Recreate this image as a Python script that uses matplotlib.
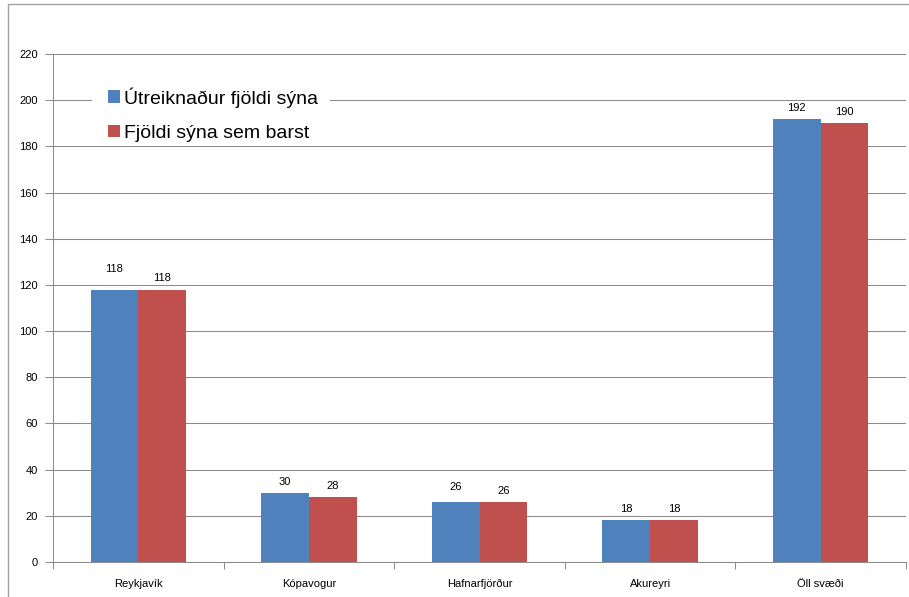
import numpy as np
import matplotlib.pyplot as plt
from matplotlib.patches import Rectangle

categories = ['Reykjavík', 'Kópavogur', 'Hafnarfjörður', 'Akureyri', 'Öll svæði']
calculated = [118, 30, 26, 18, 192]
received = [118, 28, 26, 18, 190]
series_names = ['Útreiknaður fjöldi sýna', 'Fjöldi sýna sem barst']

# extra lift (points) of the blue labels, as Excel staggered them
blue_lift = [7, 0, 3, 0, 0]

blue = '#4F81BD'
red = '#C0504D'
grid_col = '#8c8c8c'

plt.rcParams['font.family'] = ['Liberation Sans', 'DejaVu Sans']

fig = plt.figure(figsize=(9.09, 5.97), dpi=100)
ax = fig.add_axes([53 / 909, 1 - 562 / 597, 853 / 909, 508 / 597])

# outer chart border
fig.patches.append(Rectangle((8 / 909, -0.1), 1.2, 1 - 4 / 597 + 0.1, transform=fig.transFigure,
                             fill=False, edgecolor='#a0a0a0', linewidth=1))

x = np.arange(len(categories))
w = 0.28
b1 = ax.bar(x - w / 2, calculated, w, color=blue, label=series_names[0], zorder=3)
b2 = ax.bar(x + w / 2, received, w, color=red, label=series_names[1], zorder=3)

for rect, v, lift in zip(b1, calculated, blue_lift):
    ax.annotate(str(v), (rect.get_x() + rect.get_width() / 2, v), xytext=(0, 8 + lift),
                textcoords='offset points', ha='center', va='center', fontsize=8)
for rect, v in zip(b2, received):
    ax.annotate(str(v), (rect.get_x() + rect.get_width() / 2, v), xytext=(0, 8),
                textcoords='offset points', ha='center', va='center', fontsize=8)

ax.set_xlim(-0.5, len(categories) - 0.5)
ax.set_ylim(0, 220)
ax.set_yticks(range(0, 221, 20))
ax.yaxis.grid(True, color=grid_col, linewidth=0.75, zorder=0)
ax.set_axisbelow(True)

ax.set_xticks(x)
ax.set_xticklabels(categories, fontsize=8)
ax.tick_params(axis='x', length=0, pad=12)
ax.set_xticks(np.arange(-0.5, len(categories)), minor=True)
ax.tick_params(axis='x', which='minor', length=5, width=0.75, color=grid_col, direction='out')
ax.tick_params(axis='y', labelsize=8, length=6, width=0.75, color=grid_col, direction='out', pad=5)

for s in ['top', 'right']:
    ax.spines[s].set_visible(False)
ax.spines['left'].set_color(grid_col)
ax.spines['bottom'].set_color(grid_col)
ax.spines['left'].set_linewidth(0.75)
ax.spines['bottom'].set_linewidth(0.75)

# white legend area hiding the gridline behind it
ax.add_patch(Rectangle((0.0457, 0.825), 0.279, 0.124, transform=ax.transAxes,
                       facecolor='white', edgecolor='none', zorder=1))

ax.legend(loc='upper left', bbox_to_anchor=(0.0645, 0.935), fontsize=14, frameon=False,
          handlelength=0.6, handleheight=0.6, handletextpad=0.2, borderpad=0,
          borderaxespad=0, labelspacing=0.88)

fig.savefig('out.png', dpi=100)
